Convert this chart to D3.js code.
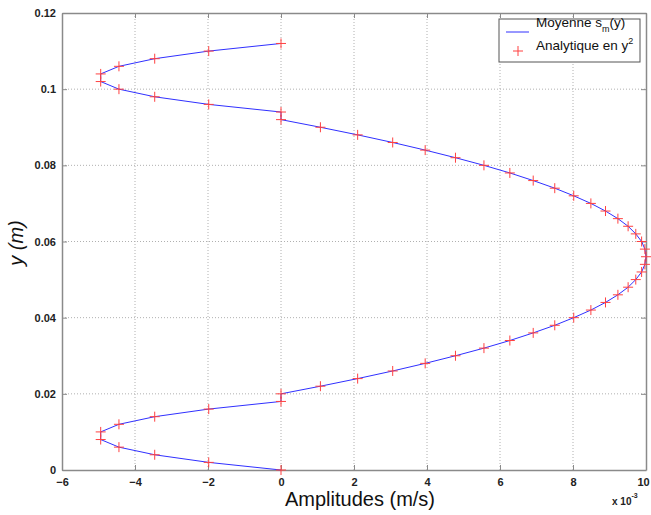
<!DOCTYPE html>
<html><head><meta charset="utf-8">
<script src="https://cdn.jsdelivr.net/npm/d3@7"></script>
<style>body{margin:0;background:#fff}text{font-family:"Liberation Sans",Arial,sans-serif}</style>
</head><body><svg id="c" width="651" height="515"></svg>
<script>
// Data (x values in units of 1e-3 m/s)
const yValues = [0,0.002,0.004,0.006,0.008,0.010,0.012,0.014,0.016,0.018,
 0.020,0.022,0.024,0.026,0.028,0.030,0.032,0.034,0.036,0.038,0.040,0.042,0.044,0.046,0.048,0.050,0.052,0.054,0.056,
 0.058,0.060,0.062,0.064,0.066,0.068,0.070,0.072,0.074,0.076,0.078,0.080,0.082,0.084,0.086,0.088,0.090,0.092,
 0.094,0.096,0.098,0.100,0.102,0.104,0.106,0.108,0.110,0.112];
const amplitudes = [0,-1.98,-3.46,-4.44,-4.94,-4.94,-4.44,-3.46,-1.98,0,
 0,1.08,2.10,3.06,3.95,4.78,5.56,6.27,6.91,7.50,8.02,8.49,8.89,9.23,9.51,9.72,9.88,9.97,10.0,
 9.97,9.88,9.72,9.51,9.23,8.89,8.49,8.02,7.50,6.91,6.27,5.56,4.78,3.95,3.06,2.10,1.08,0,
 0,-1.98,-3.46,-4.44,-4.94,-4.94,-4.44,-3.46,-1.98,0];
const xTicks = [-6,-4,-2,0,2,4,6,8,10];
const yTicks = [0,0.02,0.04,0.06,0.08,0.1,0.12];
const legendLabels = ["Moyenne s", "Analytique en y"];

const svg = d3.select("#c");
const L=62,R=646,T=13,B=470;
const x = d3.scaleLinear().domain([-6,10]).range([L,R]);
const y = d3.scaleLinear().domain([0,0.12]).range([B,T]);

// grid
const g = svg.append("g");
g.selectAll(".gx").data(xTicks.slice(1,-1)).enter().append("line")
 .attr("x1",d=>x(d)).attr("x2",d=>x(d)).attr("y1",T).attr("y2",B)
 .attr("stroke","#b0b0b0").attr("stroke-width",1).attr("stroke-dasharray","1,2");
g.selectAll(".gy").data(yTicks.slice(1,-1)).enter().append("line")
 .attr("y1",d=>y(d)).attr("y2",d=>y(d)).attr("x1",L).attr("x2",R)
 .attr("stroke","#b0b0b0").attr("stroke-width",1).attr("stroke-dasharray","1,2");

// axes
const fmtY = d=> d===0?"0":String(+d.toFixed(2));
const ax = svg.append("g").attr("transform",`translate(0,${B})`)
 .call(d3.axisBottom(x).tickValues(xTicks).tickSizeInner(-5).tickSizeOuter(0).tickPadding(8).tickFormat(d3.format("d")));
ax.selectAll(".tick text").filter(d=>d===10).attr("dx",-3);
const ay = svg.append("g").attr("transform",`translate(${L},0)`)
 .call(d3.axisLeft(y).tickValues(yTicks).tickSizeInner(-5).tickSizeOuter(0).tickPadding(6).tickFormat(fmtY));
const axT = svg.append("g").attr("transform",`translate(0,${T})`)
 .call(d3.axisTop(x).tickValues(xTicks).tickSizeInner(-5).tickSizeOuter(0).tickFormat(""));
const ayR = svg.append("g").attr("transform",`translate(${R},0)`)
 .call(d3.axisRight(y).tickValues(yTicks).tickSizeInner(-5).tickSizeOuter(0).tickFormat(""));
[ax,ay,axT,ayR].forEach(a=>{
 a.selectAll("path").attr("stroke","#8a8a8a").attr("stroke-width",1.5);
 a.selectAll("line").attr("stroke","#8a8a8a");
 a.selectAll("text").attr("font-size",11).attr("font-weight","bold").attr("fill","#222");
});

// line
const pts = yValues.map((v,i)=>[amplitudes[i],v]);
svg.append("path").datum(pts)
 .attr("d",d3.line().x(d=>x(d[0])).y(d=>y(d[1])))
 .attr("fill","none").attr("stroke","#3030ff").attr("stroke-width",1);

// markers
const m = svg.append("g");
const s=5;
m.selectAll("path").data(pts).enter().append("path")
 .attr("d",d=>`M${x(d[0])-s},${y(d[1])}H${x(d[0])+s}M${x(d[0])},${y(d[1])-s}V${y(d[1])+s}`)
 .attr("stroke","#ff4040").attr("stroke-width",1).attr("fill","none");

// labels
svg.append("text").attr("x",360).attr("y",506).attr("text-anchor","middle")
 .attr("font-size",20).attr("fill","#111").text("Amplitudes (m/s)");
svg.append("text").attr("transform","translate(23,243) rotate(-90)").attr("text-anchor","middle")
 .attr("font-size",20).attr("font-style","italic").attr("fill","#111").text("y (m)");
const ex = svg.append("text").attr("x",612).attr("y",505).attr("font-size",10).attr("font-weight","bold").attr("fill","#222");
ex.append("tspan").text("x 10");
ex.append("tspan").attr("dy",-7).attr("font-size",7).text("-3");

// legend
const lg = svg.append("g");
lg.append("rect").attr("x",499).attr("y",19).attr("width",141).attr("height",43)
 .attr("fill","#fff").attr("stroke","#555").attr("stroke-width",1);
lg.append("line").attr("x1",506).attr("x2",529).attr("y1",32).attr("y2",32).attr("stroke","#3030ff");
const t1 = lg.append("text").attr("x",536).attr("y",27).attr("font-size",13.5).attr("fill","#111");
t1.append("tspan").text(legendLabels[0]);
t1.append("tspan").attr("dy",5).attr("font-size",9).text("m");
t1.append("tspan").attr("dy",-5).text("(y)");
lg.append("path").attr("d","M513,51H523M518,46V56").attr("stroke","#ff4040");
const t2 = lg.append("text").attr("x",536).attr("y",50).attr("font-size",13.5).attr("fill","#111");
t2.append("tspan").text(legendLabels[1]);
t2.append("tspan").attr("dy",-6).attr("font-size",9).text("2");
</script></body></html>
